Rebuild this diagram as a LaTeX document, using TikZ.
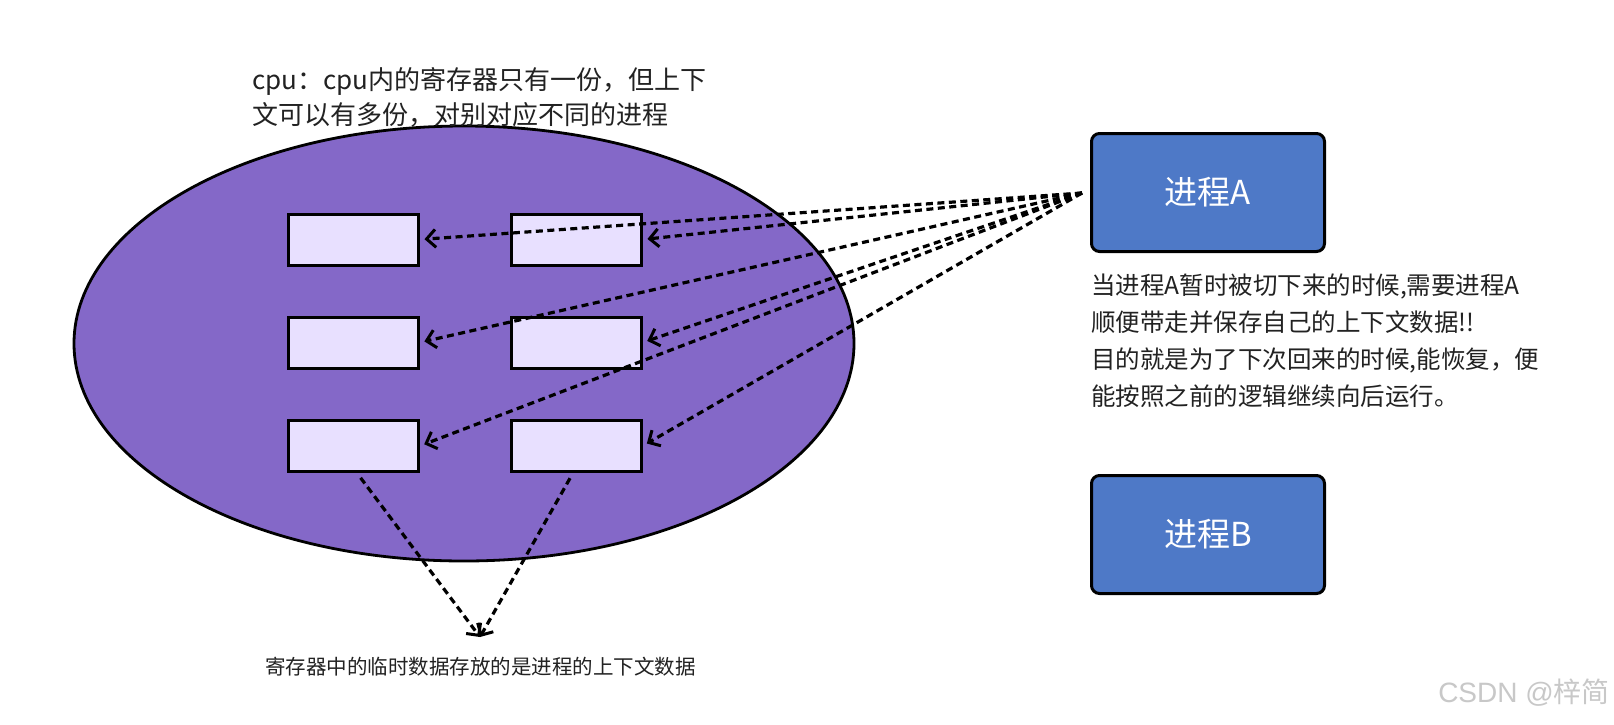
\documentclass[tikz,border=0pt]{standalone}
\usepackage{fontspec}
\newfontfamily\cjk{Noto Sans CJK SC}
\newfontfamily\wmfont{Liberation Sans}
\usetikzlibrary{arrows.meta,shapes.geometric}
\definecolor{cpuviolet}{RGB}{132,104,200}
\definecolor{regfill}{RGB}{232,224,255}
\definecolor{procblue}{RGB}{78,121,199}
\definecolor{txtgray}{RGB}{34,34,34}
\definecolor{wmgray}{RGB}{200,200,200}
\begin{document}
\begin{tikzpicture}[x=1pt,y=-1pt,
  cpubody/.style={draw=black, line width=2.8pt, fill=cpuviolet, ellipse, inner sep=0pt,
    minimum width=780pt, minimum height=435pt},
  regbox/.style={draw=black, line width=3pt, fill=regfill, inner sep=0pt,
    minimum width=130pt, minimum height=51pt},
  procbox/.style={draw=black, line width=3pt, fill=procblue, rounded corners=8pt,
    minimum width=233pt, minimum height=118pt, text=white, inner sep=0pt,
    font=\cjk\fontsize{33}{38}\selectfont},
  dl/.style={line width=3.2pt, dash pattern=on 7pt off 4.5pt,
    -{Straight Barb[length=9pt,width=18pt,line width=3pt]}},
  txt/.style={text=txtgray, inner sep=0pt, align=left}
]
\useasboundingbox (0,0) rectangle (1614,724);
\fill[white] (0,0) rectangle (1614,724);

\node[cpubody] (cpu) at (464,343.5) {};

\node[regbox] (b11) at (353,239.5) {};
\node[regbox] (b12) at (576,239.5) {};
\node[regbox] (b21) at (353,342.5) {};
\node[regbox] (b22) at (576,342.5) {};
\node[regbox] (b31) at (353,446) {};
\node[regbox] (b32) at (576,446) {};

\node[procbox] (pa) at (1208,192.5) {进程A};
\node[procbox] (pb) at (1208,534.5) {进程B};

\coordinate (src) at (1082,193);
\coordinate (conv) at (480,637);

\foreach \t in {b11,b12,b21,b22,b31,b32}
  \draw[dl, shorten >=5pt] (src) -- (\t.east);

\draw[dl, shorten <=6pt] (b31.south) ++(4pt,0) -- (conv);
\draw[dl, shorten <=6pt] (b32.south) ++(-3pt,0) -- (conv);

\node[txt, anchor=west, font=\cjk\fontsize{26}{35}\selectfont] (cputxt) at (252,97.5)
  {cpu：cpu内的寄存器只有一份，但上下\\文可以有多份，对别对应不同的进程};

\node[txt, anchor=west, font=\cjk\fontsize{24.5}{37}\selectfont] (desc) at (1091,340.5)
  {当进程A暂时被切下来的时候,需要进程A\\顺便带走并保存自己的上下文数据!!\\目的就是为了下次回来的时候,能恢复，便\\能按照之前的逻辑继续向后运行。};

\node[txt, font=\cjk\fontsize{20.5}{24}\selectfont] (note) at (480.5,667)
  {寄存器中的临时数据存放的是进程的上下文数据};

\node[anchor=east, text=wmgray, inner sep=0pt, font=\fontsize{28}{32}\selectfont] (wm) at (1610,693)
  {\wmfont CSDN @\cjk 梓简};
\end{tikzpicture}
\end{document}
